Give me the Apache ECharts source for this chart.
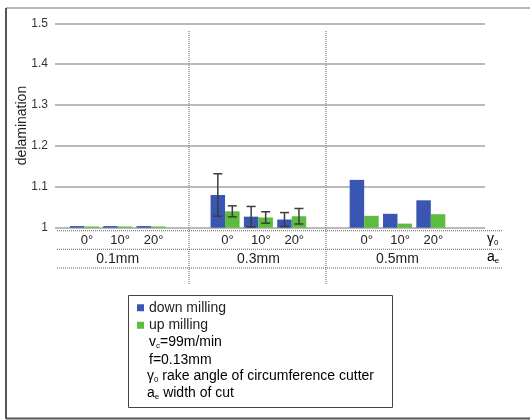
<!DOCTYPE html>
<html>
<head>
<meta charset="utf-8">
<script src="https://cdn.jsdelivr.net/npm/echarts@6/dist/echarts.min.js"></script>
<style>
  html, body { margin: 0; padding: 0; background: #ffffff; }
  #chart { width: 530px; height: 420px; }
</style>
</head>
<body>
<div id="chart"></div>
<script>
// Rake angles (inner categories) and widths of cut (outer groups)
const angles = ['0°', '10°', '20°'];
const widths = ['0.1mm', '0.3mm', '0.5mm'];

// Mean delamination per width of cut, one value per rake angle
const downMilling = [
  [1.004, 1.004, 1.004],
  [1.080, 1.027, 1.020],
  [1.117, 1.034, 1.067]
];
const upMilling = [
  [1.003, 1.003, 1.003],
  [1.040, 1.025, 1.028],
  [1.029, 1.010, 1.033]
];

// Half-width of the scatter band (only measured for 0.3mm)
const downSpread = [null, [0.052, 0.025, 0.017], null];
const upSpread = [null, [0.0135, 0.014, 0.019], null];

// Value axis ticks
const yMin = 1, yMax = 1.5, yStep = 0.1;

const BLUE = '#3a56b3';
const GREEN = '#5dbb3f';
const FONT = 'Liberation Sans, Arial, sans-serif';

const plotTop = 23.3, plotHeight = 204.4;
const groupLeft = [67.7, 208.4, 347.5];
const groupWidth = 100;
const barW = 14.5;

const grids = [{ left: 55, top: plotTop, width: 430, height: plotHeight }];
const xAxes = [{ type: 'value', gridIndex: 0, show: false }];
const yAxes = [{
  type: 'value', gridIndex: 0, min: yMin, max: yMax, interval: yStep,
  name: 'delamination', nameLocation: 'middle', nameGap: 26, nameRotate: 90,
  nameMoveOverlap: false,
  nameTextStyle: { fontSize: 14, color: '#222', fontFamily: FONT },
  axisLine: { show: false }, axisTick: { show: false },
  axisLabel: { fontSize: 12, color: '#333', margin: 7, fontFamily: FONT },
  splitLine: { lineStyle: { color: '#a3a3a3', width: 1.5 } }
}];
const series = [];

function errorBars(xIdx, yIdx, means, spread, shift) {
  return {
    type: 'custom', xAxisIndex: xIdx, yAxisIndex: yIdx, z: 5, silent: true,
    encode: { x: 0, y: [1, 2] },
    data: means.map((m, k) => [k, m - spread[k], m + spread[k]]),
    renderItem: function (params, api) {
      const top = api.coord([api.value(0), api.value(2)]);
      const bot = api.coord([api.value(0), api.value(1)]);
      const x = top[0] + shift, cap = 4.5;
      const st = { stroke: '#3c3c3c', lineWidth: 1.5 };
      return {
        type: 'group',
        children: [
          { type: 'line', shape: { x1: x, y1: top[1], x2: x, y2: bot[1] }, style: st },
          { type: 'line', shape: { x1: x - cap, y1: top[1], x2: x + cap, y2: top[1] }, style: st },
          { type: 'line', shape: { x1: x - cap, y1: bot[1], x2: x + cap, y2: bot[1] }, style: st }
        ]
      };
    }
  };
}

widths.forEach((w, i) => {
  const g = i + 1;
  grids.push({ left: groupLeft[i], top: plotTop, width: groupWidth, height: plotHeight });
  const xa = xAxes.length;
  xAxes.push({
    type: 'category', gridIndex: g, position: 'bottom', data: angles,
    axisLine: { show: false }, axisTick: { show: false },
    axisLabel: { fontSize: 13, color: '#222', margin: 6, padding: [0, 0, 0, 5], fontFamily: FONT }
  });
  xAxes.push({
    type: 'category', gridIndex: g, position: 'bottom', data: [w],
    axisLine: { show: false }, axisTick: { show: false },
    axisLabel: { fontSize: 14, color: '#222', margin: 24, fontFamily: FONT }
  });
  const ya = yAxes.length;
  yAxes.push({ type: 'value', gridIndex: g, min: yMin, max: yMax, show: false, splitLine: { show: false } });

  series.push({
    name: 'down milling', type: 'bar', xAxisIndex: xa, yAxisIndex: ya,
    data: downMilling[i], barWidth: barW, barGap: '0%',
    itemStyle: { color: BLUE }, silent: true
  });
  series.push({
    name: 'up milling', type: 'bar', xAxisIndex: xa, yAxisIndex: ya,
    data: upMilling[i], barWidth: barW, barGap: '0%',
    itemStyle: { color: GREEN }, silent: true
  });
  if (downSpread[i]) series.push(errorBars(xa, ya, downMilling[i], downSpread[i], -barW / 2));
  if (upSpread[i]) series.push(errorBars(xa, ya, upMilling[i], upSpread[i], barW / 2));
});

const dotted = { stroke: '#7a7a7a', lineWidth: 1.2, lineDash: [1, 1] };
const subRich = {
  b: { fontSize: 14, fontFamily: FONT, color: '#222' },
  s: { fontSize: 8, fontFamily: FONT, color: '#222', padding: [7, 0, 0, 0] }
};

const graphic = [
  // page frame
  { type: 'line', shape: { x1: 6, y1: 8, x2: 530, y2: 8 }, style: { stroke: '#a0a0a0', lineWidth: 1.5 } },
  { type: 'line', shape: { x1: 6, y1: 8, x2: 6, y2: 419 }, style: { stroke: '#555', lineWidth: 2 } },
  { type: 'line', shape: { x1: 6, y1: 418.5, x2: 530, y2: 418.5 }, style: { stroke: '#555', lineWidth: 2 } },
  // category table rules
  { type: 'line', shape: { x1: 57, y1: 230.7, x2: 503, y2: 230.7 }, style: dotted },
  { type: 'line', shape: { x1: 57, y1: 249.3, x2: 503, y2: 249.3 }, style: dotted },
  { type: 'line', shape: { x1: 57, y1: 268, x2: 503, y2: 268 }, style: dotted },
  { type: 'line', shape: { x1: 189, y1: 31, x2: 189, y2: 284 }, style: dotted },
  { type: 'line', shape: { x1: 326, y1: 31, x2: 326, y2: 284 }, style: dotted },
  // row captions
  { type: 'text', left: 487, top: 232, style: { text: '{b|γ}{s|0}', rich: subRich } },
  { type: 'text', left: 487, top: 250, style: { text: '{b|a}{s|e}', rich: subRich } },
  // legend frame and notes
  { type: 'rect', shape: { x: 128.5, y: 295.5, width: 264, height: 112 }, style: { fill: '#fff', stroke: '#444', lineWidth: 1 }, z: -1 },
  { type: 'text', left: 149, top: 335, style: { text: '{b|v}{s|c}{b|=99m/min}', rich: subRich } },
  { type: 'text', left: 149, top: 353, style: { text: '{b|f=0.13mm}', rich: subRich } },
  { type: 'text', left: 147, top: 369, style: { text: '{b|γ}{s|0}{b| rake angle of circumference cutter}', rich: subRich } },
  { type: 'text', left: 147, top: 386, style: { text: '{b|a}{s|e}{b| width of cut}', rich: subRich } }
];

const chart = echarts.init(document.getElementById('chart'), null, { renderer: 'canvas' });
chart.setOption({
  backgroundColor: '#ffffff',
  animation: false,
  grid: grids,
  xAxis: xAxes,
  yAxis: yAxes,
  legend: {
    data: ['down milling', 'up milling'],
    orient: 'vertical', left: 137, top: 299, padding: 0, itemGap: 0,
    itemWidth: 7, itemHeight: 7, icon: 'rect',
    textStyle: { fontSize: 14, color: '#222', lineHeight: 17.5, fontFamily: FONT },
    selectedMode: false
  },
  graphic: graphic,
  series: series
});
</script>
</body>
</html>
